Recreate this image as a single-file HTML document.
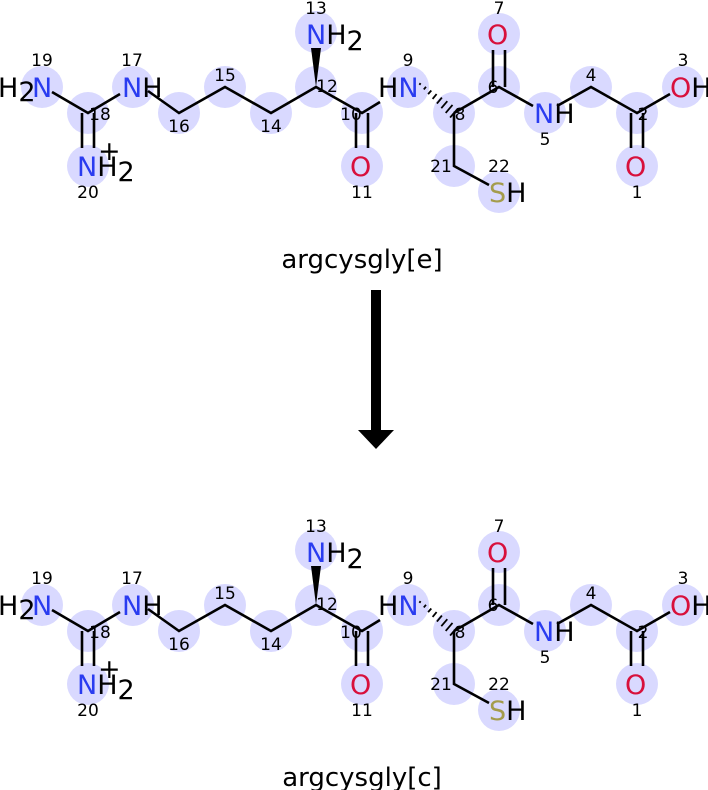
<!DOCTYPE html>
<html><head><meta charset="utf-8"><style>
html,body{margin:0;padding:0;background:#fff;width:708px;height:790px;overflow:hidden}
svg{display:block}
</style></head><body>
<svg width="708" height="790" viewBox="0 0 708 790" xmlns="http://www.w3.org/2000/svg" font-family="DejaVu Sans, Liberation Sans, sans-serif">
<g>
<g fill="#d9d9ff">
<circle cx="42" cy="87" r="21"/><circle cx="88" cy="113" r="21"/><circle cx="133" cy="87" r="21"/>
<circle cx="179" cy="113" r="21"/><circle cx="225" cy="87" r="21"/><circle cx="271" cy="113" r="21"/>
<circle cx="316" cy="87" r="21"/><circle cx="316" cy="32" r="21"/><circle cx="362" cy="113" r="21"/>
<circle cx="362" cy="166" r="21"/><circle cx="88" cy="166" r="21"/><circle cx="408" cy="87" r="21"/>
<circle cx="454" cy="113" r="21"/><circle cx="499" cy="87" r="21"/><circle cx="499" cy="34" r="21"/>
<circle cx="545" cy="113" r="21"/><circle cx="591" cy="87" r="21"/><circle cx="637" cy="113" r="21"/>
<circle cx="637" cy="166" r="21"/><circle cx="683" cy="87" r="21"/><circle cx="454" cy="166" r="21"/>
<circle cx="499" cy="192" r="21"/>
</g>
<g stroke="#000" stroke-width="2.6" fill="none">
<path d="M52 92 L88 113 L120 94"/>
<line x1="82" y1="113" x2="82" y2="148"/><line x1="94" y1="113" x2="94" y2="148"/>
<path d="M148 91 L179 113 L225 87 L271 113 L316 87 L362 113 L380 102"/>
<line x1="356" y1="113" x2="356" y2="148"/><line x1="368" y1="113" x2="368" y2="148"/>
<path d="M454 113 L499 87 L533 106"/>
<line x1="493" y1="87" x2="493" y2="50"/><line x1="505" y1="87" x2="505" y2="50"/>
<path d="M557 106 L591 87 L637 113 L670 94"/>
<line x1="631" y1="113" x2="631" y2="148"/><line x1="643" y1="113" x2="643" y2="148"/>
<path d="M454 113 L454 166 L489 185"/>
</g>
<g stroke="#000" stroke-width="1.8">
<line x1="419.4" y1="84.8" x2="420.6" y2="83.2"/>
<line x1="423.8" y1="89.4" x2="426" y2="86.8"/>
<line x1="428.1" y1="94.1" x2="431.3" y2="90.5"/>
<line x1="432.6" y1="98.9" x2="436.6" y2="94.1"/>
<line x1="436.9" y1="103.6" x2="441.9" y2="97.6"/>
<line x1="441.3" y1="108.2" x2="447.3" y2="101.2"/>
<line x1="445.7" y1="112.9" x2="452.5" y2="104.9"/>
<line x1="450.1" y1="117.6" x2="457.9" y2="108.4"/>
</g>
<polygon points="316,87 311,48 321,48" fill="#000"/>
<g font-size="27">
<text x="-2" y="97" fill="#000">H<tspan dy="4">2</tspan></text>
<text x="32" y="97" fill="#2a3cf0">N</text>
<text x="122" y="97" fill="#2a3cf0">N<tspan fill="#000">H</tspan></text>
<text x="77" y="176" fill="#2a3cf0">N<tspan fill="#000">H</tspan><tspan fill="#000" dy="5">2</tspan></text>
<text x="98" y="160" fill="#000">+</text>
<text x="306" y="44" fill="#2a3cf0">N<tspan fill="#000">H</tspan><tspan fill="#000" dy="6">2</tspan></text>
<text x="378" y="97" fill="#000">H<tspan fill="#2a3cf0">N</tspan></text>
<text x="350" y="176" fill="#d8103c">O</text>
<text x="487" y="44" fill="#d8103c">O</text>
<text x="534" y="123" fill="#2a3cf0">N<tspan fill="#000">H</tspan></text>
<text x="625" y="176" fill="#d8103c">O</text>
<text x="670" y="97" fill="#d8103c">O<tspan fill="#000">H</tspan></text>
<text x="489" y="202" fill="#a49c4c">S<tspan fill="#000">H</tspan></text>
</g>
<g font-size="17" fill="#000" text-anchor="middle">
<text x="42" y="66">19</text><text x="132" y="66">17</text><text x="100" y="120">18</text>
<text x="88" y="198">20</text><text x="179" y="132">16</text><text x="225" y="81">15</text>
<text x="271" y="132">14</text><text x="316" y="14">13</text><text x="327" y="92">12</text>
<text x="351" y="120">10</text><text x="362" y="198">11</text><text x="408" y="66">9</text>
<text x="460" y="120">8</text><text x="493" y="93">6</text><text x="499" y="14">7</text>
<text x="545" y="145">5</text><text x="591" y="81">4</text><text x="643" y="120">2</text>
<text x="637" y="198">1</text><text x="683" y="66">3</text><text x="441" y="172">21</text>
<text x="499" y="172">22</text>
</g>
</g>
<text x="362" y="268" font-size="26" text-anchor="middle" fill="#000">argcysgly[e]</text>
<rect x="371" y="290" width="10" height="141" fill="#000"/>
<polygon points="358,430 394,430 376,449" fill="#000"/>
<g transform="translate(0,518)">
<g fill="#d9d9ff">
<circle cx="42" cy="87" r="21"/><circle cx="88" cy="113" r="21"/><circle cx="133" cy="87" r="21"/>
<circle cx="179" cy="113" r="21"/><circle cx="225" cy="87" r="21"/><circle cx="271" cy="113" r="21"/>
<circle cx="316" cy="87" r="21"/><circle cx="316" cy="32" r="21"/><circle cx="362" cy="113" r="21"/>
<circle cx="362" cy="166" r="21"/><circle cx="88" cy="166" r="21"/><circle cx="408" cy="87" r="21"/>
<circle cx="454" cy="113" r="21"/><circle cx="499" cy="87" r="21"/><circle cx="499" cy="34" r="21"/>
<circle cx="545" cy="113" r="21"/><circle cx="591" cy="87" r="21"/><circle cx="637" cy="113" r="21"/>
<circle cx="637" cy="166" r="21"/><circle cx="683" cy="87" r="21"/><circle cx="454" cy="166" r="21"/>
<circle cx="499" cy="192" r="21"/>
</g>
<g stroke="#000" stroke-width="2.6" fill="none">
<path d="M52 92 L88 113 L120 94"/>
<line x1="82" y1="113" x2="82" y2="148"/><line x1="94" y1="113" x2="94" y2="148"/>
<path d="M148 91 L179 113 L225 87 L271 113 L316 87 L362 113 L380 102"/>
<line x1="356" y1="113" x2="356" y2="148"/><line x1="368" y1="113" x2="368" y2="148"/>
<path d="M454 113 L499 87 L533 106"/>
<line x1="493" y1="87" x2="493" y2="50"/><line x1="505" y1="87" x2="505" y2="50"/>
<path d="M557 106 L591 87 L637 113 L670 94"/>
<line x1="631" y1="113" x2="631" y2="148"/><line x1="643" y1="113" x2="643" y2="148"/>
<path d="M454 113 L454 166 L489 185"/>
</g>
<g stroke="#000" stroke-width="1.8">
<line x1="419.4" y1="84.8" x2="420.6" y2="83.2"/>
<line x1="423.8" y1="89.4" x2="426" y2="86.8"/>
<line x1="428.1" y1="94.1" x2="431.3" y2="90.5"/>
<line x1="432.6" y1="98.9" x2="436.6" y2="94.1"/>
<line x1="436.9" y1="103.6" x2="441.9" y2="97.6"/>
<line x1="441.3" y1="108.2" x2="447.3" y2="101.2"/>
<line x1="445.7" y1="112.9" x2="452.5" y2="104.9"/>
<line x1="450.1" y1="117.6" x2="457.9" y2="108.4"/>
</g>
<polygon points="316,87 311,48 321,48" fill="#000"/>
<g font-size="27">
<text x="-2" y="97" fill="#000">H<tspan dy="4">2</tspan></text>
<text x="32" y="97" fill="#2a3cf0">N</text>
<text x="122" y="97" fill="#2a3cf0">N<tspan fill="#000">H</tspan></text>
<text x="77" y="176" fill="#2a3cf0">N<tspan fill="#000">H</tspan><tspan fill="#000" dy="5">2</tspan></text>
<text x="98" y="160" fill="#000">+</text>
<text x="306" y="44" fill="#2a3cf0">N<tspan fill="#000">H</tspan><tspan fill="#000" dy="6">2</tspan></text>
<text x="378" y="97" fill="#000">H<tspan fill="#2a3cf0">N</tspan></text>
<text x="350" y="176" fill="#d8103c">O</text>
<text x="487" y="44" fill="#d8103c">O</text>
<text x="534" y="123" fill="#2a3cf0">N<tspan fill="#000">H</tspan></text>
<text x="625" y="176" fill="#d8103c">O</text>
<text x="670" y="97" fill="#d8103c">O<tspan fill="#000">H</tspan></text>
<text x="489" y="202" fill="#a49c4c">S<tspan fill="#000">H</tspan></text>
</g>
<g font-size="17" fill="#000" text-anchor="middle">
<text x="42" y="66">19</text><text x="132" y="66">17</text><text x="100" y="120">18</text>
<text x="88" y="198">20</text><text x="179" y="132">16</text><text x="225" y="81">15</text>
<text x="271" y="132">14</text><text x="316" y="14">13</text><text x="327" y="92">12</text>
<text x="351" y="120">10</text><text x="362" y="198">11</text><text x="408" y="66">9</text>
<text x="460" y="120">8</text><text x="493" y="93">6</text><text x="499" y="14">7</text>
<text x="545" y="145">5</text><text x="591" y="81">4</text><text x="643" y="120">2</text>
<text x="637" y="198">1</text><text x="683" y="66">3</text><text x="441" y="172">21</text>
<text x="499" y="172">22</text>
</g>
</g>
<text x="362" y="786" font-size="26" text-anchor="middle" fill="#000">argcysgly[c]</text>
</svg>
</body></html>
